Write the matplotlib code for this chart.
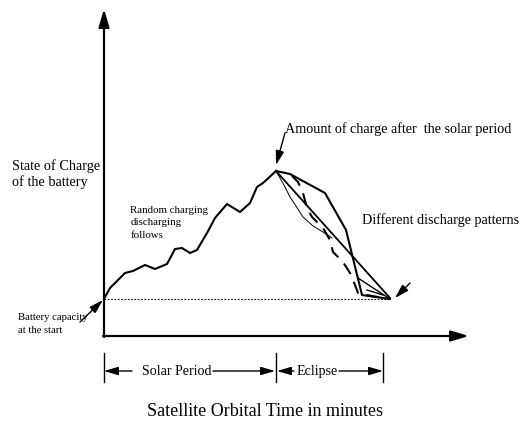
import matplotlib.pyplot as plt

plt.rcParams['font.family'] = ['Liberation Serif', 'DejaVu Serif']

# schematic coordinates (pixel-like units, y grows downward)
charge_x = [104, 110, 125, 133, 145, 155, 167, 175, 182, 190, 197, 207, 215, 227, 240, 250, 257, 263, 276]
charge_y = [299, 288, 273, 271, 265, 269, 264, 249, 248, 253, 250, 233, 218, 204, 212, 203, 187, 183, 171]

straight_x = [276, 390]
straight_y = [171, 298]

angled_x = [276, 290, 325, 346, 362, 390]
angled_y = [171, 174, 193, 230, 295, 299]

thin_x = [276, 280, 285, 290, 296, 303, 313, 323, 332]
thin_y = [171, 178, 187, 197, 206, 217, 226, 232, 238]

dashed_x = [292, 298, 303, 307, 312, 323, 330, 333, 343, 350, 355, 358, 372, 390]
dashed_y = [176, 182, 193, 208, 217, 228, 240, 252, 262, 273, 285, 293, 296, 299]

inner_x = [358, 390]
inner_y = [278, 299]
inner2_x = [367, 383]
inner2_y = [290, 295]

fig = plt.figure(figsize=(5.27, 4.23), dpi=100)
ax = fig.add_axes([0, 0, 1, 1])
ax.set_xlim(0, 527)
ax.set_ylim(423, 0)
ax.axis('off')

arrow = dict(arrowstyle='-|>,head_length=0.85,head_width=0.25', color='k', lw=1, shrinkA=0, shrinkB=0, mutation_scale=10)
axis_arrow = dict(arrowstyle='-|>,head_length=1.08,head_width=0.32', color='k', lw=1.6, shrinkA=0, shrinkB=0, mutation_scale=10)

# axes
ax.annotate('', xy=(104, 9), xytext=(104, 337), arrowprops=axis_arrow)
ax.annotate('', xy=(469, 336), xytext=(103, 336), arrowprops=axis_arrow)

# start level
ax.plot([104, 390], [299, 299], color='k', lw=0.8, ls=(0, (1.5, 1.5)))

# charging curve and discharge patterns
ax.plot(charge_x, charge_y, color='k', lw=1.5, solid_joinstyle='round')
ax.plot(straight_x, straight_y, color='k', lw=1.3)
ax.plot(angled_x, angled_y, color='k', lw=1.5)
ax.plot(thin_x, thin_y, color='k', lw=0.7)
ax.plot(dashed_x, dashed_y, color='k', lw=1.5, ls=(0, (6, 4)))
ax.plot(inner_x, inner_y, color='k', lw=1.0)
ax.plot(inner2_x, inner2_y, color='k', lw=1.0)

# pointers
ax.annotate('', xy=(276, 165), xytext=(285, 133), arrowprops=arrow)
ax.annotate('', xy=(395, 298), xytext=(410, 283), arrowprops=arrow)
ax.annotate('', xy=(103, 300), xytext=(80, 322), arrowprops=arrow)

# texts
for i, s in enumerate(['State of Charge', 'of the battery']):
    ax.text(12.5, 170 + 16 * i, s, fontsize=10.3, va='baseline')
for i, s in enumerate(['Random charging', 'discharging', 'follows']):
    ax.text(130.5, 213 + 12.3 * i, s, fontsize=7.8, va='baseline')
for i, s in enumerate(['Battery capacity', 'at the start']):
    ax.text(18, 320.5 + 12.7 * i, s, fontsize=7.7, va='baseline')
ax.text(285, 133.5, 'Amount of charge after  the solar period', fontsize=10.2, va='baseline')
ax.text(362, 224, 'Different discharge patterns', fontsize=10.2, va='baseline')
ax.text(147, 416.5, 'Satellite Orbital Time in minutes', fontsize=13, va='baseline')

# period dimension lines
for x in [104, 276, 383]:
    ax.plot([x, x], [353, 382], color='k', lw=1)
ax.text(141.5, 375, 'Solar Period', fontsize=10.1, va='baseline')
ax.text(297, 375, 'Eclipse', fontsize=10.1, va='baseline')
ax.annotate('', xy=(104, 371), xytext=(132, 371), arrowprops=arrow)
ax.annotate('', xy=(275, 371), xytext=(213, 371), arrowprops=arrow)
ax.annotate('', xy=(277, 371), xytext=(294, 371), arrowprops=arrow)
ax.annotate('', xy=(383, 371), xytext=(339, 371), arrowprops=arrow)

fig.savefig('out.png', dpi=100)
